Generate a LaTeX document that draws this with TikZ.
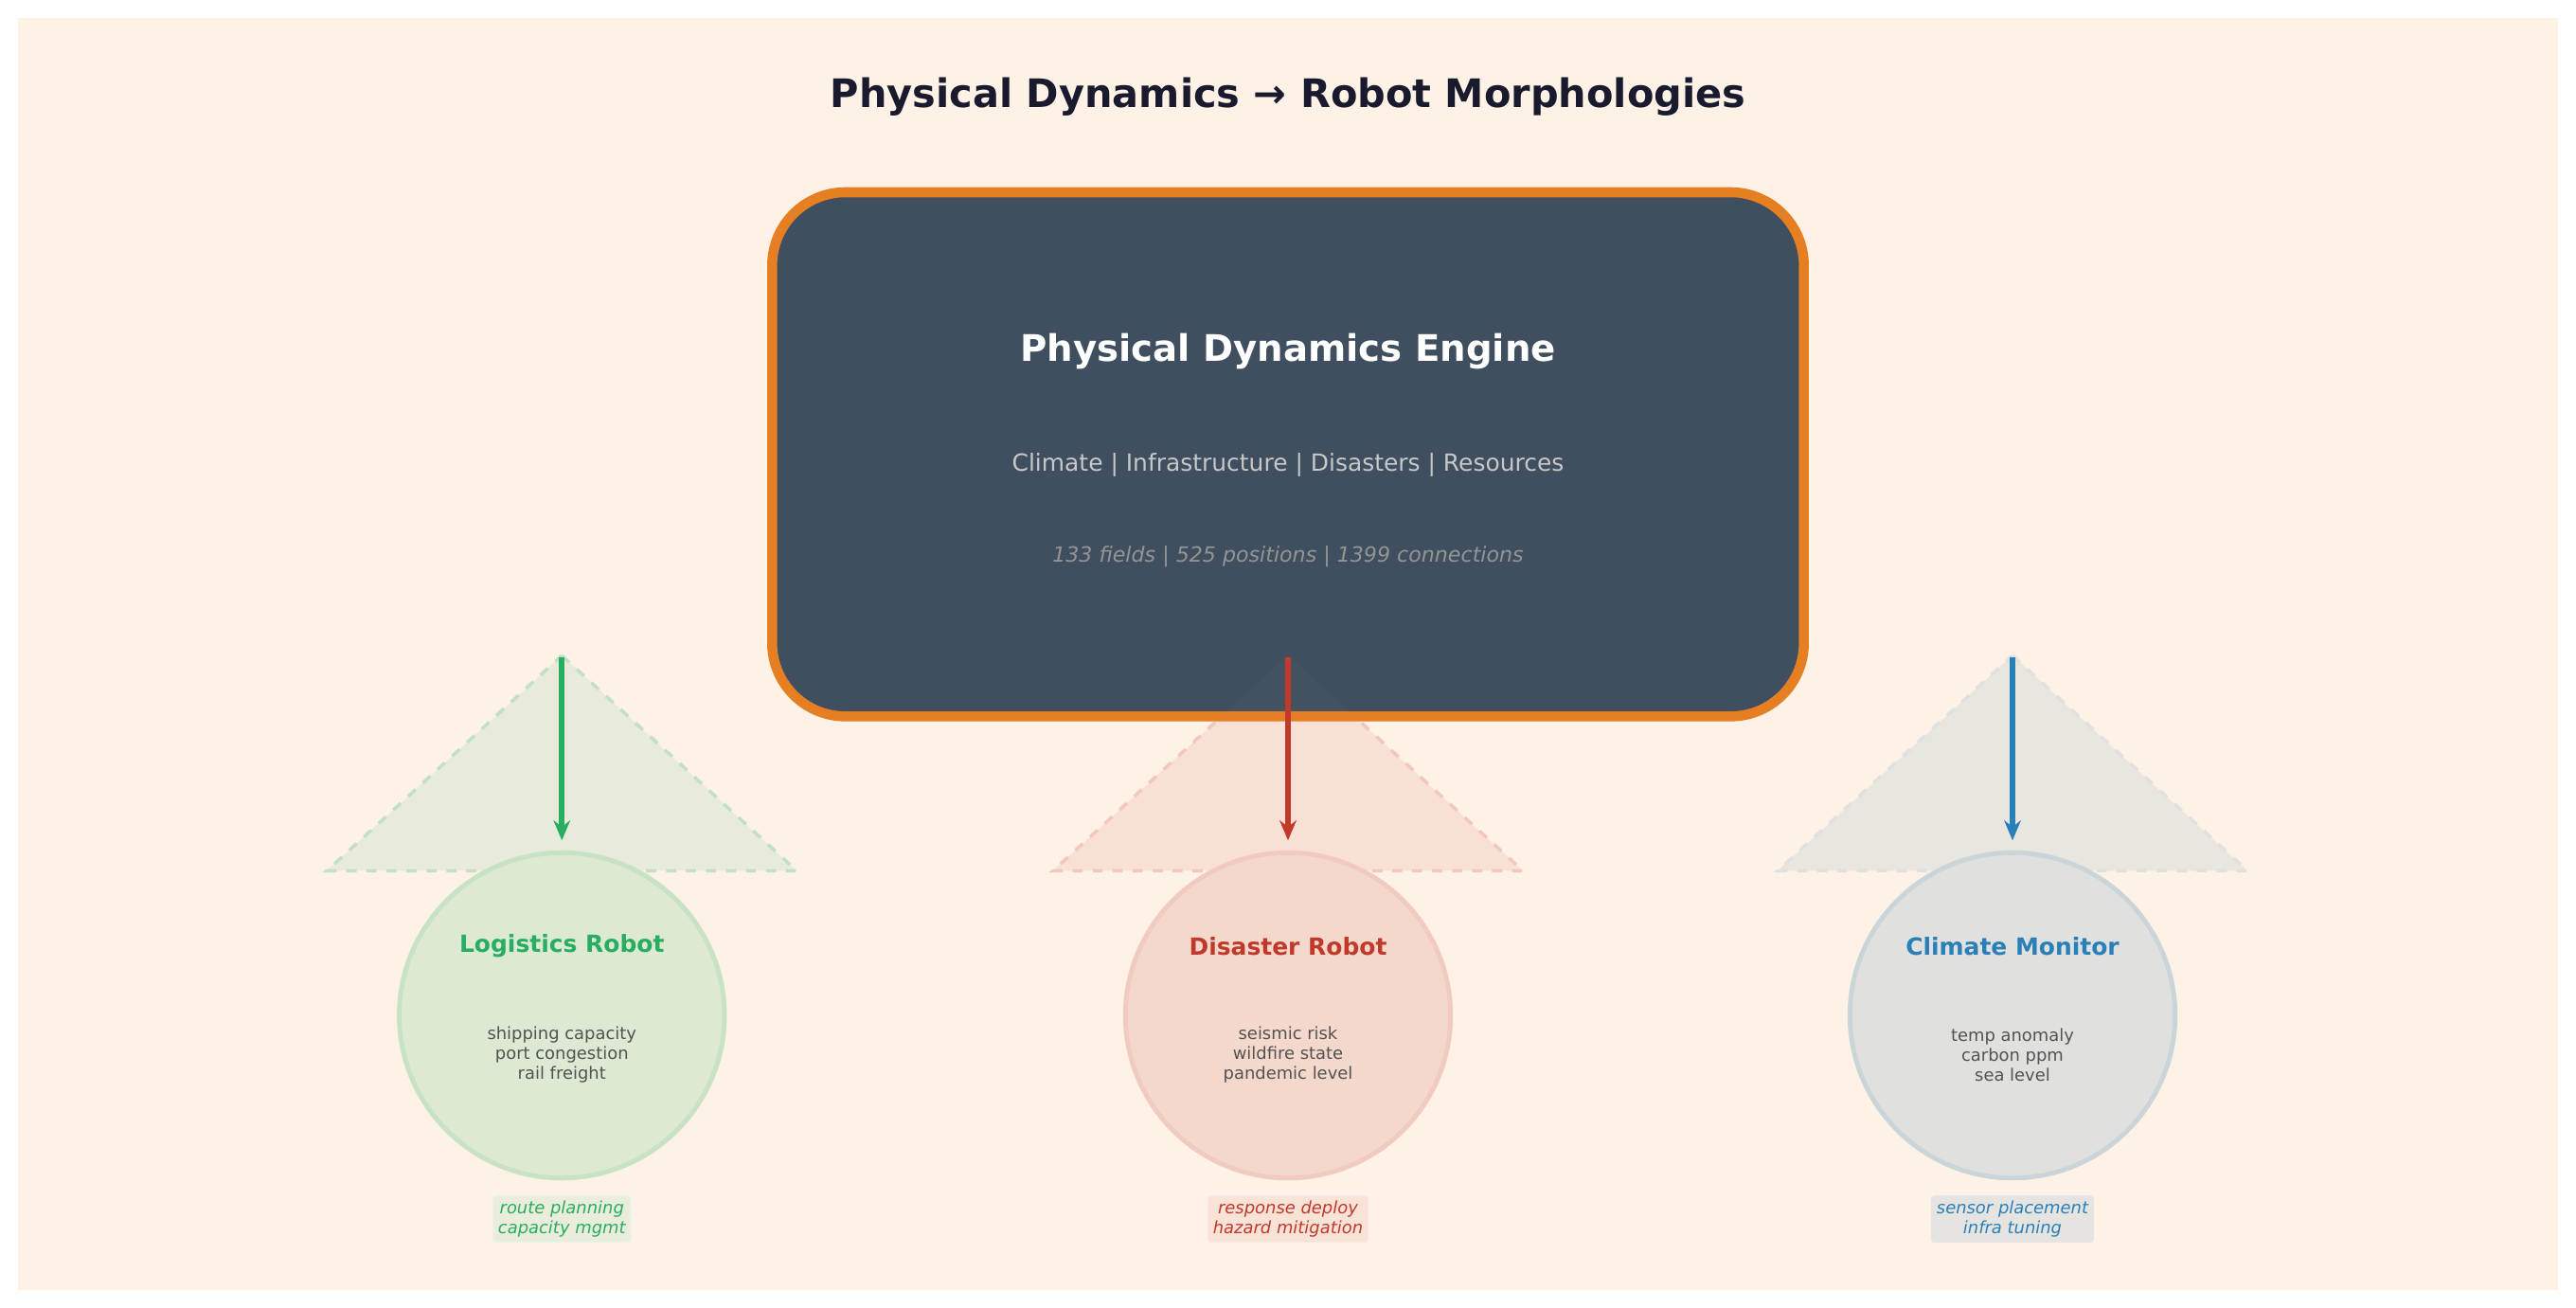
\documentclass[tikz,border=0pt]{standalone}
\usepackage{fontspec}
\setmainfont{DejaVu Sans}
\usetikzlibrary{arrows.meta,positioning}
\definecolor{fundo}{HTML}{FEF2E6}
\definecolor{motor}{HTML}{3F4F5F}
\definecolor{laranja}{HTML}{E67E22}
\definecolor{verde}{HTML}{27AE60}
\definecolor{vermelho}{HTML}{C0392B}
\definecolor{azul}{HTML}{2980B9}
\definecolor{triV}{HTML}{E8EBDB}
\definecolor{triR}{HTML}{F8E0D5}
\definecolor{triA}{HTML}{E8E6DE}
\definecolor{cirV}{HTML}{DDE9D3}
\definecolor{cirR}{HTML}{F5D8CC}
\definecolor{cirA}{HTML}{E0E1DF}
\tikzset{
  robo/.style={circle, minimum size=198*0.017347cm, inner sep=0pt, line width=1.4pt},
  seta/.style={-{Stealth[length=6pt,width=5pt]}, line width=1.6pt, shorten >=3pt},
  triangulo/.style={dashed, line width=1pt},
  rotulo/.style={font=\fontsize{7.1}{8}\selectfont\bfseries},
  itens/.style={font=\fontsize{5.1}{5.9}\selectfont, text=black!68, align=center},
  tarefa/.style={font=\fontsize{5.1}{5.9}\selectfont\itshape, align=center, inner sep=1.5pt, rounded corners=1pt}
}
\begin{document}
\begin{tikzpicture}[x=0.017347cm, y=-0.017347cm]
		\useasboundingbox (0,0) rectangle (1568,796);
		\fill[white] (0,0) rectangle (1568,796);
		\fill[fundo] (11,11) rectangle (1557,785);							% Painel
		\node[font=\fontsize{11.8}{14}\selectfont\bfseries, text={rgb,255:red,26;green,26;blue,46}] (titulo) at (784,59) {Physical Dynamics → Robot Morphologies};

		% Triangulos
		\fill[triV, draw=cirV!85!verde, triangulo] (342,399) -- (485,530) -- (199,530) -- cycle;
		\fill[triR, draw=cirR!90!vermelho, triangulo] (784,399) -- (927,530) -- (641,530) -- cycle;
		\fill[triA, draw=black!12, triangulo] (1225,399) -- (1368,530) -- (1082,530) -- cycle;

		% Motor
		\node[draw=laranja, line width=3pt, fill=motor, rounded corners=22pt, minimum width=628*0.017347cm, minimum height=319*0.017347cm] (motor) at (784,276.5) {};
		\fill[triR, opacity=0.025] (784,399) -- (822,434) -- (746,434) -- cycle;
		\node[font=\fontsize{11}{13}\selectfont\bfseries, text=white] (nome) at (784,214) {Physical Dynamics Engine};
		\node[font=\fontsize{7.1}{9}\selectfont, text=black!22] (dominios) at (784,283) {Climate | Infrastructure | Disasters | Resources};
		\node[font=\fontsize{6.3}{8}\selectfont\itshape, text=black!42] (numeros) at (784,339) {133 fields | 525 positions | 1399 connections};
		\coordinate (s1) at (342,400);
		\coordinate (s2) at (784,400);
		\coordinate (s3) at (1225,400);

		% Robos
		\node[robo, fill=cirV, draw=cirV!88!verde] (r1) at (342,618) {};
		\node[robo, fill=cirR, draw=cirR!92!vermelho] (r2) at (784,618) {};
		\node[robo, fill=cirA, draw=cirA!88!azul] (r3) at (1225,618) {};

		\node[rotulo, text=verde] at (342,576) {Logistics Robot};
		\node[rotulo, text=vermelho] at (784,576) {Disaster Robot};
		\node[rotulo, text=azul] at (1225,576) {Climate Monitor};

		\node[itens] at (342,642) {shipping capacity\\port congestion\\rail freight};
		\node[itens] at (784,642) {seismic risk\\wildfire state\\pandemic level};
		\node[itens] at (1225,642) {temp anomaly\\carbon ppm\\sea level};

		\node[tarefa, text=verde, fill=cirV!60!fundo, draw=verde!12] at (342,742) {route planning\\capacity mgmt};
		\node[tarefa, text=vermelho, fill=cirR!60!fundo, draw=vermelho!12] at (784,742) {response deploy\\hazard mitigation};
		\node[tarefa, text=azul, fill=cirA!80!fundo, draw=black!10] at (1225,742) {sensor placement\\infra tuning};

		% Setas
		\draw[seta, verde] (s1) -- (r1);
		\draw[seta, vermelho] (s2) -- (r2);
		\draw[seta, azul] (s3) -- (r3);
	\end{tikzpicture}
\end{document}
